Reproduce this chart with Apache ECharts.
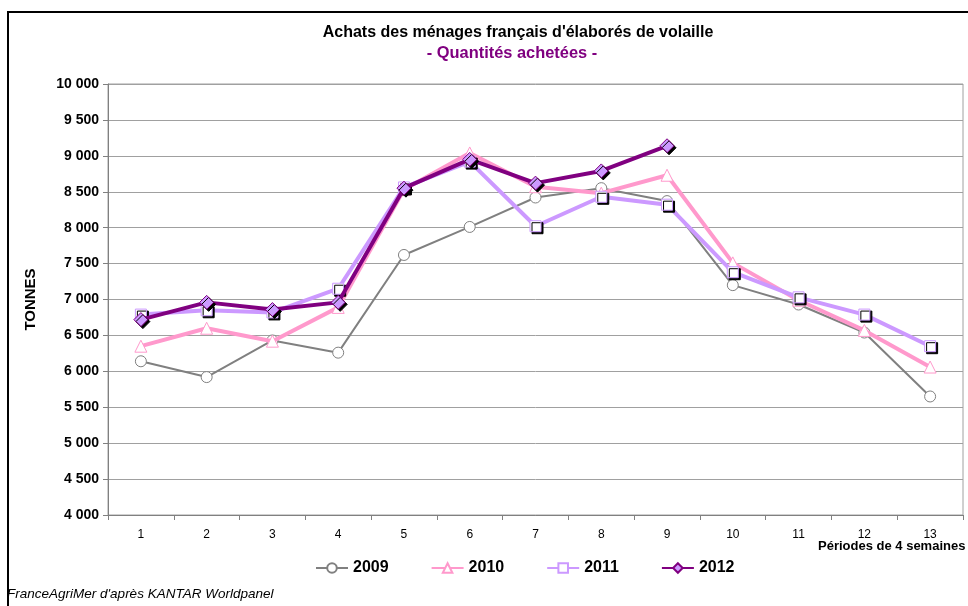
<!DOCTYPE html>
<html>
<head>
<meta charset="utf-8">
<script src="https://cdn.jsdelivr.net/npm/echarts@6/dist/echarts.min.js"></script>
<style>
  html, body { margin: 0; padding: 0; background: #fff; }
  #main { width: 968px; height: 606px; }
</style>
</head>
<body>
<div id="main"></div>
<script>
// périodes de 4 semaines
var periodes = ['1','2','3','4','5','6','7','8','9','10','11','12','13'];
var yTicks = [4000, 4500, 5000, 5500, 6000, 6500, 7000, 7500, 8000, 8500, 9000, 9500, 10000];

var v2009 = [6140, 5920, 6430, 6260, 7620, 8010, 8420, 8550, 8370, 7200, 6930, 6540, 5650];
var v2010 = [6350, 6600, 6420, 6890, 8530, 9040, 8570, 8480, 8730, 7510, 6990, 6570, 6060];
var v2011 = [6790, 6850, 6820, 7150, 8560, 8920, 8020, 8430, 8320, 7380, 7030, 6790, 6350];
var v2012 = [6720, 6960, 6860, 6960, 8550, 8950, 8620, 8790, 9140, null, null, null, null];

var font = 'Liberation Sans, Arial, sans-serif';
var shadow = { shadowColor: '#000', shadowBlur: 0, shadowOffsetX: 2, shadowOffsetY: 2 };

function fmt(v) {
  return String(v).replace(/\B(?=(\d{3})+(?!\d))/g, ' ');
}

var chart = echarts.init(document.getElementById('main'));
chart.setOption({
  animation: false,
  backgroundColor: '#fff',
  textStyle: { fontFamily: font },
  graphic: [{
    type: 'rect',
    shape: { x: 8, y: 12, width: 1000, height: 700 },
    style: { fill: 'none', stroke: '#000', lineWidth: 2 },
    silent: true
  }, {
    // nom de l'axe des x
    type: 'text',
    left: 818, top: 540,
    style: { text: 'Périodes de 4 semaines', font: 'bold 13px ' + font, fill: '#000' }
  }, {
    type: 'text',
    left: 7, top: 587,
    style: { text: "FranceAgriMer d'après KANTAR Worldpanel", font: 'italic 13.5px ' + font, fill: '#000' }
  }],
  title: [{
    text: "Achats des ménages français d'élaborés de volaille",
    left: 513, textAlign: 'center', top: 20,
    textStyle: { fontSize: 16, fontWeight: 'bold', color: '#000', fontFamily: font }
  }, {
    text: '- Quantités achetées -',
    left: 507, textAlign: 'center', top: 40,
    textStyle: { fontSize: 16.4, fontWeight: 'bold', color: '#800080', fontFamily: font }
  }],
  legend: {
    top: 555, left: 310, itemWidth: 32, itemHeight: 12, itemGap: 42,
    textStyle: { fontSize: 16, fontWeight: 'bold', color: '#000', fontFamily: font },
    data: ['2009', '2010', '2011', '2012']
  },
  grid: { left: 108, right: 5, top: 84, bottom: 91, outerBoundsMode: 'none', containLabel: false,
    show: true, borderColor: '#a0a0a0', borderWidth: 1 },
  xAxis: {
    type: 'category', data: periodes, boundaryGap: true,
    axisLine: { lineStyle: { color: '#808080', width: 1 } },
    axisTick: { show: true, length: 5, lineStyle: { color: '#808080' } },
    axisLabel: { fontSize: 12, color: '#000', margin: 14 },
    splitLine: { show: false }
  },
  yAxis: {
    type: 'value', min: 4000, max: 10000, interval: 500,
    name: 'TONNES', nameLocation: 'middle', nameGap: 70, nameRotate: 90,
    nameTextStyle: { fontSize: 15, fontWeight: 'bold', color: '#000' },
    axisLine: { show: true, lineStyle: { color: '#808080', width: 1 } },
    axisTick: { show: true, length: 5, lineStyle: { color: '#808080' } },
    axisLabel: { fontSize: 14, fontWeight: 'bold', color: '#000', margin: 9,
      formatter: function (v) { return yTicks.indexOf(v) >= 0 ? fmt(v) : ''; } },
    splitLine: { show: true, lineStyle: { color: '#a0a0a0', width: 1 } }
  },
  series: [{
    name: '2009', type: 'line', data: v2009,
    symbol: 'circle', symbolSize: 11,
    lineStyle: { color: '#808080', width: 2 },
    itemStyle: { color: '#fff', borderColor: '#808080', borderWidth: 1 },
    z: 2
  }, {
    name: '2010', type: 'line', data: v2010,
    symbol: 'triangle', symbolSize: 12,
    lineStyle: { color: '#ff99cc', width: 4 },
    itemStyle: { color: '#fff', borderColor: '#ff99cc', borderWidth: 1 },
    z: 3
  }, {
    name: '2011', type: 'line', data: v2011,
    symbol: 'rect', symbolSize: 11,
    lineStyle: { color: '#cc99ff', width: 4 },
    itemStyle: Object.assign({ color: '#fff', borderColor: '#cc99ff', borderWidth: 1 }, shadow),
    z: 4
  }, {
    name: '2012', type: 'line', data: v2012,
    symbol: 'diamond', symbolSize: 14,
    lineStyle: { color: '#800080', width: 4 },
    itemStyle: Object.assign({ color: '#cc99ff', borderColor: '#800080', borderWidth: 1 }, shadow),
    z: 5
  }]
});
</script>
</body>
</html>
